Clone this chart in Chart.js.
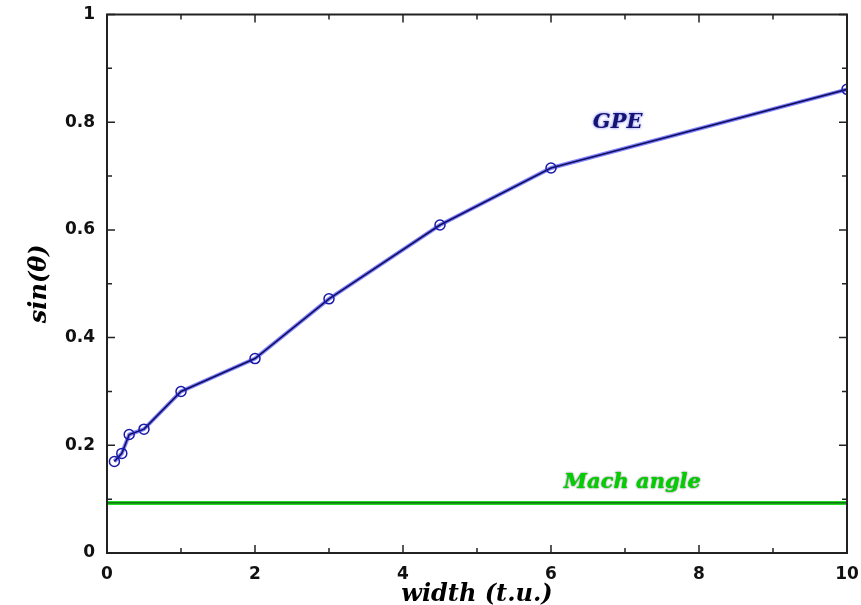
<!DOCTYPE html>
<html>
<head>
<meta charset="utf-8">
<script src="https://cdn.jsdelivr.net/npm/chart.js@4.4.1/dist/chart.umd.min.js"></script>
<style>
  html, body { margin: 0; padding: 0; background: #fff; }
  #wrap { width: 861px; height: 605px; }
</style>
</head>
<body>
<div id="wrap"><canvas id="chart"></canvas></div>
<script>
// values
const widths = [0.1, 0.2, 0.3, 0.5, 1, 2, 3, 4.5, 6, 10];
const sinTheta = [0.17, 0.185, 0.22, 0.23, 0.30, 0.361, 0.472, 0.609, 0.715, 0.861];
const machX = [0, 10];
const machY = [0.093, 0.093];
const xTicks = [0, 2, 4, 6, 8, 10];
const yTicks = [0, 0.2, 0.4, 0.6, 0.8, 1];

const gpePoints = widths.map((w, i) => ({ x: w, y: sinTheta[i] }));
const machPoints = machX.map((x, i) => ({ x: x, y: machY[i] }));

const tickFont = { family: "DejaVu Sans", weight: "bold", size: 17 };
const titleFont = "italic bold 24px 'DejaVu Serif'";

// frame with inward ticks, axis titles and curve labels
const framePlugin = {
  id: "frame",
  afterDraw(chart) {
    const ctx = chart.ctx;
    const a = chart.chartArea;
    const xs = chart.scales.x;
    const ys = chart.scales.y;
    ctx.save();
    ctx.strokeStyle = "#222";
    ctx.lineWidth = 2;
    ctx.strokeRect(a.left, a.top, a.right - a.left, a.bottom - a.top);

    ctx.lineWidth = 1.5;
    ctx.beginPath();
    for (let v = 0; v <= 10; v += 1) {
      const px = xs.getPixelForValue(v);
      const len = v % 2 === 0 ? 8 : 5;
      ctx.moveTo(px, a.bottom); ctx.lineTo(px, a.bottom - len);
      ctx.moveTo(px, a.top); ctx.lineTo(px, a.top + len);
    }
    for (let k = 0; k <= 10; k++) {
      const py = ys.getPixelForValue(k / 10);
      const len = k % 2 === 0 ? 8 : 5;
      ctx.moveTo(a.left, py); ctx.lineTo(a.left + len, py);
      ctx.moveTo(a.right, py); ctx.lineTo(a.right - len, py);
    }
    ctx.stroke();

    // axis titles
    ctx.fillStyle = "#000";
    ctx.font = titleFont;
    ctx.textAlign = "center";
    ctx.textBaseline = "alphabetic";
    ctx.fillText("width (t.u.)", (a.left + a.right) / 2, 601);
    ctx.save();
    ctx.translate(46, (a.top + a.bottom) / 2);
    ctx.rotate(-Math.PI / 2);
    ctx.fillText("sin(θ)", 0, 0);
    ctx.restore();

    // curve labels
    ctx.font = "italic bold 21px 'DejaVu Serif'";
    ctx.textBaseline = "middle";
    ctx.shadowColor = "rgba(60,60,255,0.8)";
    ctx.shadowBlur = 3;
    ctx.fillStyle = "#141470";
    ctx.fillText("GPE", xs.getPixelForValue(6.9), ys.getPixelForValue(0.80));

    ctx.shadowColor = "rgba(0,60,0,0.9)";
    ctx.shadowBlur = 2;
    ctx.fillStyle = "#00d000";
    ctx.fillText("Mach angle", xs.getPixelForValue(7.1), ys.getPixelForValue(0.130));
    ctx.restore();
  }
};

new Chart(document.getElementById("chart"), {
  type: "line",
  data: {
    datasets: [
      {
        data: machPoints,
        borderColor: "#22dd22",
        borderWidth: 4,
        pointRadius: 0,
        order: 4
      },
      {
        data: machPoints,
        borderColor: "#0a300a",
        borderWidth: 1,
        pointRadius: 0,
        order: 3
      },
      {
        data: gpePoints,
        borderColor: "rgba(90,90,255,0.75)",
        borderWidth: 4,
        pointRadius: 0,
        order: 2
      },
      {
        data: gpePoints,
        borderColor: "#101060",
        borderWidth: 1.6,
        pointRadius: 5,
        pointBorderColor: "#1a1aa8",
        pointBorderWidth: 1.5,
        pointBackgroundColor: "rgba(0,0,0,0)",
        order: 1
      }
    ]
  },
  options: {
    responsive: true,
    maintainAspectRatio: false,
    animation: false,
    layout: { padding: { left: 0, top: 14.5, right: 14, bottom: 0 } },
    plugins: {
      legend: { display: false },
      tooltip: { enabled: false }
    },
    scales: {
      x: {
        type: "linear",
        min: 0,
        max: 10,
        afterBuildTicks: (s) => { s.ticks = xTicks.map((v) => ({ value: v })); },
        afterFit: (s) => { s.height = 52; s.paddingLeft = 0; s.paddingRight = 0; },
        grid: { display: false, drawTicks: false },
        border: { display: false },
        ticks: { font: tickFont, color: "#111", padding: 11, maxRotation: 0,
                 callback: (v) => String(v) }
      },
      y: {
        type: "linear",
        min: 0,
        max: 1,
        afterBuildTicks: (s) => { s.ticks = yTicks.map((v) => ({ value: v })); },
        afterFit: (s) => { s.width = 107; s.paddingTop = 0; s.paddingBottom = 0; },
        grid: { display: false, drawTicks: false },
        border: { display: false },
        ticks: { font: tickFont, color: "#111", padding: 12,
                 callback: (v) => String(Number(v.toFixed(1))) }
      }
    }
  },
  plugins: [framePlugin]
});
</script>
</body>
</html>
